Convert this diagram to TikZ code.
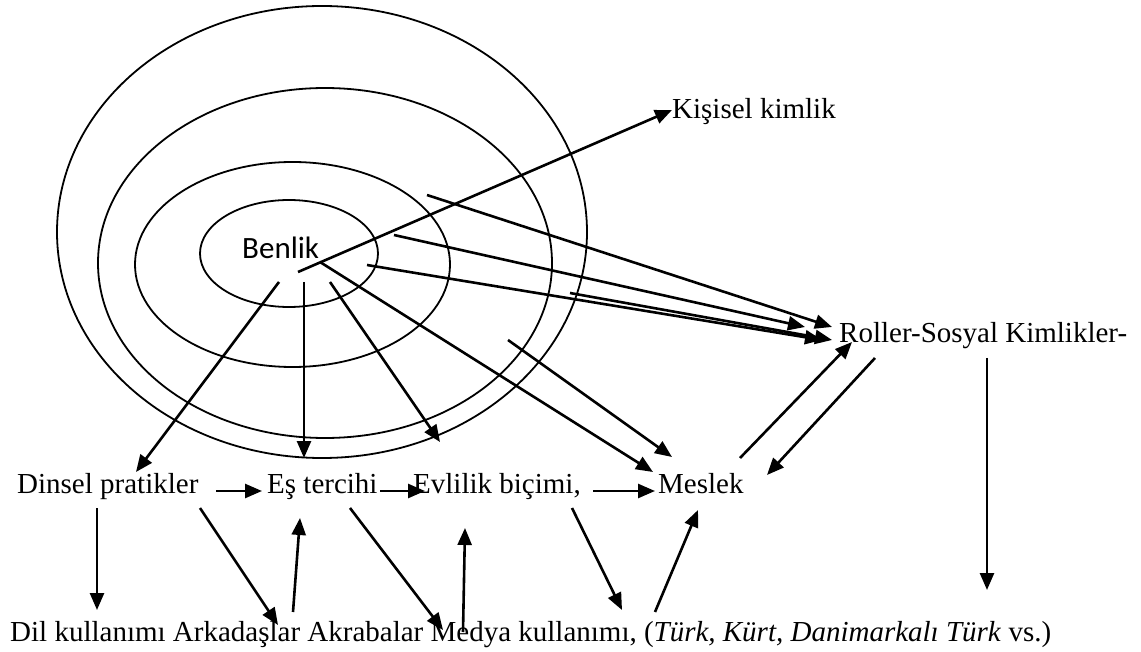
\documentclass[tikz,border=0pt]{standalone}
\usepackage{fontspec}
\setmainfont{Liberation Serif}
\newfontfamily\calib{Carlito}
\usetikzlibrary{arrows.meta}
\begin{document}
\begin{tikzpicture}[x=1pt,y=-1pt,
  ring/.style={line width=1.8pt},
  arr/.style={line width=2.6pt,-{Triangle[length=17pt,width=14pt]}},
  lbl/.style={inner sep=0pt,anchor=base west,font=\fontsize{29}{35}\selectfont},
  ]
\useasboundingbox[fill=white] (0,0) rectangle (1141,652);
% rings
\draw[ring] (322,232) ellipse [x radius=265pt,y radius=226pt];
\draw[ring] (325,263) ellipse [x radius=227pt,y radius=175pt];
\draw[ring] (292.5,264.5) ellipse [x radius=157.5pt,y radius=102.5pt];
\draw[ring] (289,253.5) ellipse [x radius=89pt,y radius=53.5pt];
% labels
\node[inner sep=0pt,anchor=base west,font=\calib\fontsize{31}{37}\selectfont] (benlik) at (242,259) {Benlik};
\node[lbl] (kisisel) at (672,119) {Kişisel kimlik};
\node[lbl] (roller) at (839,343) {Roller-Sosyal Kimlikler-};
\node[lbl] (dinsel) at (17,493) {Dinsel pratikler};
\node[lbl] (es) at (267,493) {Eş tercihi};
\node[lbl] (evlilik) at (413,493) {Evlilik biçimi,};
\node[lbl] (meslek) at (658,493) {Meslek};
\node[lbl] (alt) at (10,641) {Dil kullanımı Arkadaşlar Akrabalar Medya kullanımı, (\textit{Türk, Kürt, Danimarkalı Türk} vs.)};
% coordinates
\coordinate (b1s) at (298,272); \coordinate (b1e) at (672,110);
\coordinate (b2s) at (279,282); \coordinate (b2e) at (136,472);
\coordinate (b3s) at (304,282); \coordinate (b3e) at (304,458);
\coordinate (b4s) at (330,282); \coordinate (b4e) at (440,442);
\coordinate (b5s) at (320,262); \coordinate (b5e) at (653,472);
\coordinate (m2s) at (508,340); \coordinate (m2e) at (672,457);
\coordinate (r1s) at (427,195); \coordinate (r1e) at (832,327);
\coordinate (r2s) at (394,235); \coordinate (r2e) at (805,327);
\coordinate (r3s) at (367,265); \coordinate (r3e) at (822,340);
\coordinate (r4s) at (570,293); \coordinate (r4e) at (832,340);
\coordinate (mrs) at (740,458); \coordinate (mre) at (852,342);
\coordinate (rms) at (875,358); \coordinate (rme) at (767,475);
\coordinate (rds) at (987,358); \coordinate (rde) at (987,590);
\coordinate (h1s) at (216,491); \coordinate (h1e) at (262,491);
\coordinate (h2s) at (380,491); \coordinate (h2e) at (425,491);
\coordinate (h3s) at (593,491); \coordinate (h3e) at (655,491);
\coordinate (d1s) at (97,508);  \coordinate (d1e) at (97,610);
\coordinate (d2s) at (200,508); \coordinate (d2e) at (278,625);
\coordinate (d3s) at (293,612); \coordinate (d3e) at (300,518);
\coordinate (d4s) at (350,508); \coordinate (d4e) at (443,630);
\coordinate (d5s) at (463,632); \coordinate (d5e) at (465,528);
\coordinate (d6s) at (572,508); \coordinate (d6e) at (622,610);
\coordinate (d7s) at (655,612); \coordinate (d7e) at (698,510);
% arrows
\foreach \a in {b1,b2,b3,b4,b5,m2,r1,r2,r3,r4,mr,rm,rd,h1,h2,h3,d1,d2,d3,d4,d5,d6,d7}
  \draw[arr] (\a s) -- (\a e);
\end{tikzpicture}
\end{document}
